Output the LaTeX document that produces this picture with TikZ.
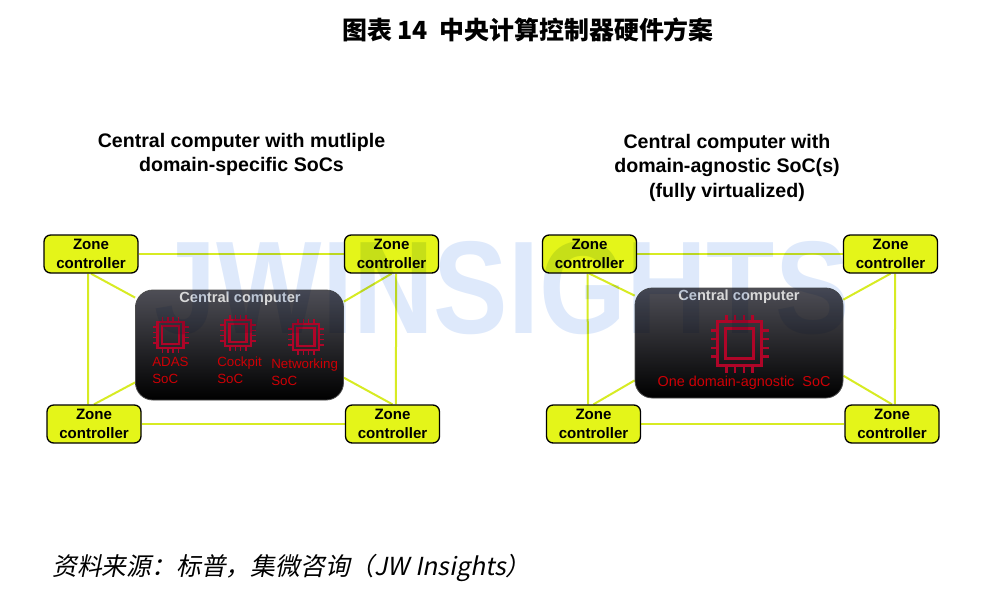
\documentclass[tikz,border=0pt]{standalone}
\usepackage{fontspec}
\setmainfont{Liberation Sans}
\newfontfamily\cjk{Noto Sans CJK SC}
\newfontfamily\cjkit[FakeSlant=0.2]{Noto Sans CJK SC}
\usetikzlibrary{backgrounds}
\definecolor{zoneyellow}{RGB}{228,245,25}
\definecolor{linkyellow}{RGB}{215,235,35}
\definecolor{chipred}{RGB}{175,5,40}
\definecolor{socred}{RGB}{205,0,5}
\definecolor{capgray}{RGB}{78,78,86}
\definecolor{wmblue}{RGB}{222,233,251}
\tikzset{
  zone/.style={draw=black, line width=1pt, fill=zoneyellow, rounded corners=5pt, minimum width=70.5pt, minimum height=28.5pt, align=center, inner sep=0pt, font=\fontsize{11.3}{14}\selectfont\bfseries},
  central/.style={draw=black!70, line width=.6pt, rounded corners=13pt, top color=capgray, middle color=black, bottom color=black, minimum width=156pt, minimum height=82.5pt},
  link/.style={draw=linkyellow, line width=1.5pt},
  heading/.style={align=center, font=\fontsize{14.7}{18.4}\selectfont\bfseries},
  captext/.style={text=black!15, font=\fontsize{11}{13}\selectfont\bfseries},
  soclabel/.style={text=socred, anchor=west, align=left, inner sep=0pt, font=\fontsize{10}{12.7}\selectfont},
  chipicon/.pic={
    \draw[chipred, line width=2.2pt] (-22,-22) rectangle (22,22);
    \draw[chipred, line width=2.2pt] (-14,-15) rectangle (14,15);
    \foreach \p in {-13,-4.5,4.5,13} {
      \draw[chipred, line width=1.9pt] (\p,22) -- (\p,29);
      \draw[chipred, line width=1.9pt] (\p,-22) -- (\p,-29);
      \draw[chipred, line width=1.9pt] (22,\p) -- (29,\p);
      \draw[chipred, line width=1.9pt] (-22,\p) -- (-29,\p);
    }
  },
  smallchip/.pic={
    \draw[chipred, line width=1.7pt] (-13,-13) rectangle (13,13);
    \draw[chipred, line width=1.7pt] (-8.5,-9) rectangle (8.5,9);
    \foreach \p in {-8,-2.7,2.7,8} {
      \draw[chipred, line width=1.1pt] (\p,13) -- (\p,18);
      \draw[chipred, line width=1.1pt] (\p,-13) -- (\p,-18);
      \draw[chipred, line width=1.1pt] (13,\p) -- (18,\p);
      \draw[chipred, line width=1.1pt] (-13,\p) -- (-18,\p);
    }
  }
}
\begin{document}
\begin{tikzpicture}[x=.75pt, y=-.75pt]
  \useasboundingbox (0,0) rectangle (1000,590);
  \node[font=\cjk\fontsize{18.7}{22}\selectfont\bfseries] (title) at (528,30) {图表 14\ \ 中央计算控制器硬件方案};
  \node[heading] (hl) at (241.5,154.5) {Central computer with mutliple\\domain-specific SoCs};
  \node[heading] (hr) at (727,167.5) {Central computer with\\domain-agnostic SoC(s)\\(fully virtualized)};

  % left group
  \node[central] (cl) at (239.5,345) {};
  \node[zone] (zl0) at (91,254) {Zone\\controller};
  \node[zone] (zl1) at (391.5,254) {Zone\\controller};
  \node[zone] (zl2) at (94,424) {Zone\\controller};
  \node[zone] (zl3) at (392.5,424) {Zone\\controller};
  \node[captext] (capl) at (240,299) {Central computer};
  \pic at (170.5,335) {smallchip};
  \pic at (238,333) {smallchip};
  \pic at (306,337) {smallchip};
  \node[soclabel] (adas) at (152,370) {ADAS\\SoC};
  \node[soclabel] (cockpit) at (217,370) {Cockpit\\SoC};
  \node[soclabel] (net) at (271,372) {Networking\\SoC};

  % right group
  \node[central] (cr) at (739,343) {};
  \node[zone] (zr0) at (589.5,254) {Zone\\controller};
  \node[zone] (zr1) at (890.5,254) {Zone\\controller};
  \node[zone] (zr2) at (593.5,424) {Zone\\controller};
  \node[zone] (zr3) at (892,424) {Zone\\controller};
  \node[captext] (capr) at (739,297) {Central computer};
  \pic at (739.5,343.5) {chipicon};
  \node[text=socred, font=\fontsize{10.8}{13}\selectfont, inner sep=0pt] (one) at (744,383) {One domain-agnostic\ \ SoC};

  \begin{scope}[on background layer]
    \draw[link] (zl0) -- (zl1);
    \draw[link] (zl2) -- (zl3);
    \draw[link] ([xshift=-2.2pt]zl0.south) -- ([xshift=-4.5pt]zl2.north);
    \draw[link] ([xshift=3.4pt]zl1.south) -- ([xshift=2.6pt]zl3.north);
    \draw[link] (zl0.south) -- ([yshift=-6pt]cl.north west);
    \draw[link] (zl1.south) -- ([yshift=-9pt]cl.north east);
    \draw[link] (zl2.north) -- ([yshift=13.5pt]cl.south west);
    \draw[link] (zl3.north) -- ([yshift=17pt]cl.south east);

    \draw[link] (zr0) -- (zr1);
    \draw[link] (zr2) -- (zr3);
    \draw[link] ([xshift=-1.5pt]zr0.south) -- ([xshift=-4pt]zr2.north);
    \draw[link] ([xshift=3.4pt]zr1.south) -- ([xshift=2.2pt]zr3.north);
    \draw[link] (zr0.south) -- ([yshift=-6pt]cr.north west);
    \draw[link] (zr1.south) -- ([yshift=-9pt]cr.north east);
    \draw[link] (zr2.north) -- ([yshift=13.5pt]cr.south west);
    \draw[link] (zr3.north) -- ([yshift=17pt]cr.south east);
  \end{scope}

  \node[blend mode=multiply, text=wmblue, xscale=.846, font=\fontsize{99}{99}\selectfont\bfseries, inner sep=0pt] (wm) at (502,288) {JWINSIGHTS};
  \node[anchor=west, inner sep=0pt, font=\cjkit\fontsize{18.6}{22}\selectfont] (src) at (52,568) {资料来源：标普，集微咨询（JW Insights）};
\end{tikzpicture}
\end{document}
